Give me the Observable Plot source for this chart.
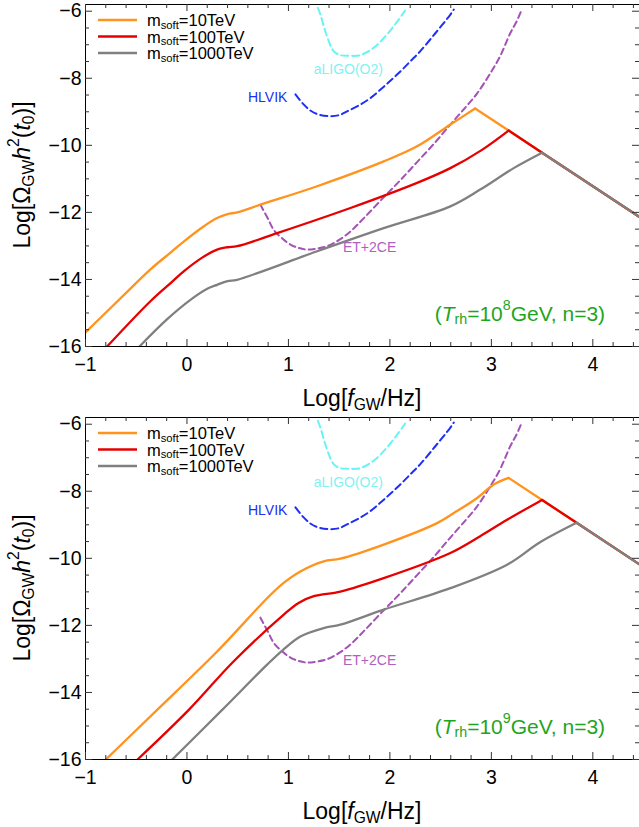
<!DOCTYPE html>
<html>
<head>
<meta charset="utf-8">
<script src="https://cdn.jsdelivr.net/npm/d3@7"></script>
<script src="https://cdn.jsdelivr.net/npm/@observablehq/plot@0.6"></script>
<style>
  html, body { margin: 0; padding: 0; background: #fff; }
  #chart svg { display: block; }
</style>
</head>
<body>
<div id="chart"></div>
<script>
// ---------- data ----------
const xTicks = [-1, 0, 1, 2, 3, 4];
const yTicks = [-16, -14, -12, -10, -8, -6];
const xMinor = [-0.8,-0.6,-0.4,-0.2,0.2,0.4,0.6,0.8,1.2,1.4,1.6,1.8,2.2,2.4,2.6,2.8,3.2,3.4,3.6,3.8,4.2,4.4];
const yMinor = [-15.5,-15,-14.5,-13.5,-13,-12.5,-11.5,-11,-10.5,-9.5,-9,-8.5,-7.5,-7,-6.5];

const seriesNames = ["10TeV", "100TeV", "1000TeV"];
const seriesColors = ["#ff931e", "#e60000", "#808080"];

// Panel 1: T_rh = 10^8 GeV
const top10 = [[-1,-15.58],[-0.6,-14.4],[-0.36,-13.7],[-0.15,-13.17],[-0.032,-12.87],[0.15,-12.45],[0.297,-12.17],[0.4,-12.05],[0.494,-12.0],[0.724,-11.77],[1.283,-11.22],[1.939,-10.48],[2.268,-10.03],[2.596,-9.38],[2.84,-8.9],[3.17,-9.56],[3.5,-10.22],[4.46,-12.14]];
const top100 = [[-0.787,-16],[-0.36,-14.65],[-0.15,-14.08],[-0.032,-13.76],[0.15,-13.35],[0.297,-13.11],[0.4,-13.04],[0.494,-13.01],[0.889,-12.62],[1.611,-11.87],[2.268,-11.12],[2.596,-10.68],[2.9,-10.15],[3.17,-9.56],[3.5,-10.22],[4.46,-12.14]];
const top1000 = [[-0.468,-16],[-0.2,-15.2],[0.034,-14.61],[0.2,-14.28],[0.297,-14.16],[0.4,-14.05],[0.494,-14.01],[1.283,-13.16],[1.939,-12.47],[2.596,-11.82],[2.89,-11.32],[3.22,-10.68],[3.5,-10.22],[4.46,-12.14]];

// Panel 2: T_rh = 10^9 GeV
const bot10 = [[-0.8,-16],[-0.294,-14.52],[0.297,-12.78],[0.79,-11.19],[0.95,-10.74],[1.118,-10.39],[1.348,-10.09],[1.512,-10.01],[1.939,-9.59],[2.465,-8.95],[2.63,-8.65],[2.86,-8.2],[3.023,-7.8],[3.17,-7.6],[3.5,-8.26],[3.84,-8.94],[4.46,-10.18]];
const bot100 = [[-0.487,-16],[0.018,-14.52],[0.461,-13.07],[0.954,-11.68],[1.1,-11.33],[1.25,-11.13],[1.512,-10.99],[1.939,-10.59],[2.596,-9.84],[2.89,-9.34],[3.155,-8.85],[3.5,-8.26],[3.84,-8.94],[4.46,-10.18]];
const bot1000 = [[-0.145,-16],[0.347,-14.52],[0.79,-13.17],[0.95,-12.72],[1.118,-12.33],[1.348,-12.08],[1.512,-11.98],[1.939,-11.53],[2.596,-10.89],[3.155,-10.19],[3.48,-9.52],[3.84,-8.94],[4.46,-10.18]];

// detector sensitivity curves (same in both panels)
const aLIGO = [[1.29,-5.9],[1.315,-6.1],[1.38,-6.75],[1.446,-7.19],[1.512,-7.31],[1.6,-7.33],[1.709,-7.31],[1.84,-7.09],[1.97,-6.7],[2.07,-6.32],[2.15,-5.98]];
const HLVIK = [[1.069,-8.48],[1.15,-8.78],[1.22,-8.97],[1.296,-9.08],[1.414,-9.13],[1.5,-9.1],[1.578,-8.99],[1.7,-8.8],[1.808,-8.59],[1.94,-8.25],[2.071,-7.89],[2.2,-7.5],[2.3,-7.19],[2.45,-6.65],[2.596,-6.1],[2.63,-5.95]];
const ET2CE = [[0.724,-11.77],[0.8,-12.2],[0.855,-12.52],[0.94,-12.78],[1.02,-12.96],[1.1,-13.06],[1.184,-13.11],[1.28,-13.08],[1.381,-13.01],[1.5,-12.82],[1.611,-12.57],[1.75,-12.15],[1.939,-11.55],[2.1,-11.05],[2.268,-10.5],[2.45,-9.9],[2.596,-9.38],[2.75,-8.85],[2.86,-8.45],[3.0,-7.8],[3.09,-7.32],[3.187,-6.65],[3.25,-6.3],[3.3,-5.95]];

const detLabels = [
  {x: 1.59, y: -7.73, text: "aLIGO(O2)", color: "#7ff2f2", anchor: "middle"},
  {x: 0.99, y: -8.57, text: "HLVIK", color: "#2030f0", anchor: "end"},
  {x: 1.80, y: -13.06, text: "ET+2CE", color: "#b060c0", anchor: "middle"}
];

const panels = [
  {series: [top10, top100, top1000], exp: "8", H: 414, mT: 4},
  {series: [bot10, bot100, bot1000], exp: "9", H: 413, mT: 3}
];
const annoPos = {x: 3.286, y: -15.03};

// ---------- layout ----------
const W = 639, mL = 85, mR = 0, mB = 68;
const fw = W - mL - mR;
const FONT = "'Liberation Sans', Arial, Helvetica, sans-serif";

function addRich(parent, x, y, parts, opts) {
  const t = parent.append("text")
    .attr("x", x).attr("y", y)
    .attr("text-anchor", opts.anchor || "start")
    .attr("dominant-baseline", "central")
    .attr("font-family", FONT)
    .attr("font-size", opts.size)
    .attr("fill", opts.fill || "black");
  if (opts.transform) t.attr("transform", opts.transform);
  let shift = 0;
  for (const p of parts) {
    const s = t.append("tspan").text(p.t);
    let target = 0;
    if (p.sub) target = opts.size * 0.28;
    if (p.sup) target = -opts.size * 0.38;
    if (target !== shift) { s.attr("dy", target - shift); shift = target; }
    if (p.sub || p.sup) s.attr("font-size", opts.size * 0.68);
    if (p.i) s.attr("font-style", "italic");
  }
  return t;
}

// split a spectrum at its peak: smooth rise, straight fall
function splitAtPeak(s) {
  const k = d3.maxIndex(s, d => d[1]);
  return [s.slice(0, k + 1), s.slice(k)];
}

const chart = document.getElementById("chart");

for (const panel of panels) {
  const H = panel.H, mT = panel.mT;
  const fh = H - mT - mB;
  const specMarks = [];
  panel.series.forEach((s, i) => {
    const [rise, fall] = splitAtPeak(s);
    specMarks.push(Plot.line(rise, {x: d => d[0], y: d => d[1], stroke: seriesColors[i], strokeWidth: 2.3, curve: "catmull-rom", clip: true}));
    specMarks.push(Plot.line(fall, {x: d => d[0], y: d => d[1], stroke: seriesColors[i], strokeWidth: 2.3, clip: true}));
  });
  const fig = Plot.plot({
    width: W, height: H,
    marginLeft: mL, marginRight: mR, marginTop: mT, marginBottom: mB,
    style: {fontFamily: FONT, fontSize: "19.5px", color: "black", background: "white", overflow: "visible"},
    x: {domain: [-1, 4.46]},
    y: {domain: [-16, -5.8]},
    marks: [
      // detector curves
      Plot.line(aLIGO, {x: d => d[0], y: d => d[1], stroke: "#66f4f4", strokeWidth: 2, strokeDasharray: "7,4", curve: "catmull-rom", clip: true}),
      Plot.line(HLVIK, {x: d => d[0], y: d => d[1], stroke: "#1f2ff5", strokeWidth: 2, strokeDasharray: "7,4", curve: "catmull-rom", clip: true}),
      Plot.line(ET2CE, {x: d => d[0], y: d => d[1], stroke: "#a352b5", strokeWidth: 2, strokeDasharray: "6,4", curve: "catmull-rom", clip: true}),
      // spectra
      ...specMarks,
      // detector labels
      Plot.text(detLabels.filter(d => d.anchor === "middle"), {x: "x", y: "y", text: "text", fill: "color", textAnchor: "middle", fontSize: 14}),
      Plot.text(detLabels.filter(d => d.anchor === "end"), {x: "x", y: "y", text: "text", fill: "color", textAnchor: "end", fontSize: 14}),
      // frame & inward ticks
      Plot.frame({stroke: "black", strokeWidth: 1}),
      Plot.ruleX(xTicks, {insetTop: fh - 7, stroke: "#333"}),
      Plot.ruleX(xTicks, {insetBottom: fh - 7, stroke: "#333"}),
      Plot.ruleX(xMinor, {insetTop: fh - 4, stroke: "#333"}),
      Plot.ruleX(xMinor, {insetBottom: fh - 4, stroke: "#333"}),
      Plot.ruleY(yTicks, {insetRight: fw - 7, stroke: "#333"}),
      Plot.ruleY(yTicks, {insetLeft: fw - 7, stroke: "#333"}),
      Plot.ruleY(yMinor, {insetRight: fw - 4, stroke: "#333"}),
      Plot.ruleY(yMinor, {insetLeft: fw - 4, stroke: "#333"}),
      Plot.axisX(xTicks, {tickSize: 0, tickPadding: 11, fontSize: 19.5, label: null}),
      Plot.axisY(yTicks, {tickSize: 0, tickPadding: 4, fontSize: 19.5, label: null})
    ]
  });
  const sx = fig.scale("x"), sy = fig.scale("y");
  const svg = d3.select(fig);

  // axis titles
  addRich(svg, (mL + W) / 2, H - 16, [
    {t: "Log["}, {t: "f", i: true}, {t: "GW", sub: true}, {t: "/Hz]"}
  ], {size: 23, anchor: "middle"});
  addRich(svg, 0, 0, [
    {t: "Log[Ω"}, {t: "GW", sub: true}, {t: "h", i: true}, {t: "2", sup: true}, {t: "("}, {t: "t", i: true}, {t: "0", sub: true}, {t: ")]"}
  ], {size: 23, anchor: "middle", transform: `translate(22,${mT + fh / 2}) rotate(-90)`});

  // legend
  const lg = svg.append("g");
  const rows = [16, 32.5, 49].map(r => r + mT);
  seriesNames.forEach((name, i) => {
    lg.append("line").attr("x1", 98).attr("x2", 137).attr("y1", rows[i]).attr("y2", rows[i])
      .attr("stroke", seriesColors[i]).attr("stroke-width", 2.3);
    addRich(lg, 147, rows[i], [{t: "m"}, {t: "soft", sub: true}, {t: "=" + name}], {size: 16.5});
  });

  // annotation
  addRich(svg, sx.apply(annoPos.x), sy.apply(annoPos.y), [
    {t: "("}, {t: "T", i: true}, {t: "rh", sub: true}, {t: "=10"}, {t: panel.exp, sup: true}, {t: "GeV, n=3)"}
  ], {size: 21, anchor: "middle", fill: "#1ea51e"});

  chart.appendChild(fig);
}
</script>
</body>
</html>
